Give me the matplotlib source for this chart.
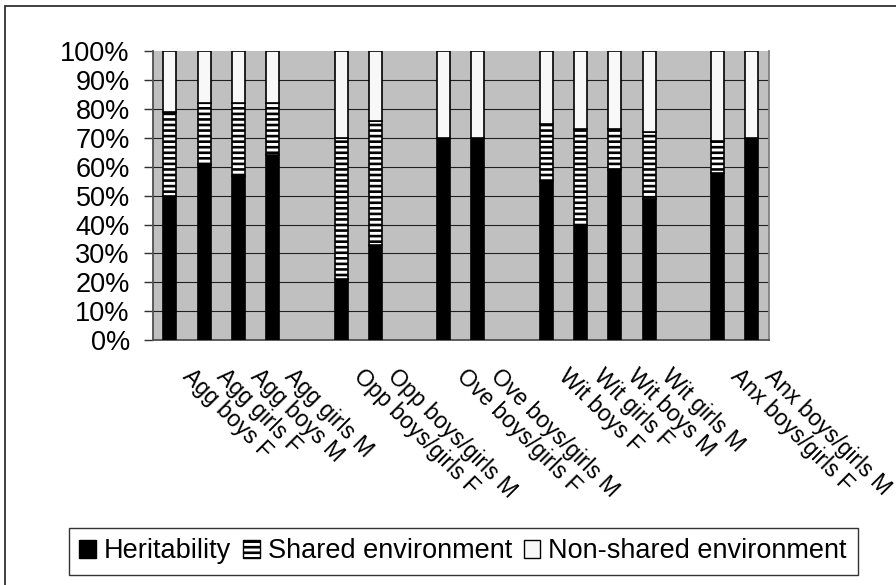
import numpy as np
import matplotlib
matplotlib.use("Agg")
import matplotlib.pyplot as plt
from matplotlib.patches import Rectangle, Patch
from matplotlib.ticker import FuncFormatter
from matplotlib.transforms import ScaledTranslation

# Variance components (%) per scale and rater; blank entries separate the groups
categories = ["Agg boys F", "Agg girls F", "Agg boys M", "Agg girls M", "",
              "Opp boys/girls F", "Opp boys/girls M", "",
              "Ove boys/girls F", "Ove boys/girls M", "",
              "Wit boys F", "Wit girls F", "Wit boys M", "Wit girls M", "",
              "Anx boys/girls F", "Anx boys/girls M"]
heritability = [50, 61, 57, 64, 0, 21, 33, 0, 70, 70, 0, 55, 40, 59, 49, 0, 58, 70]
shared_env = [29, 21, 25, 18, 0, 49, 43, 0, 0, 0, 0, 20, 33, 14, 23, 0, 11, 0]
nonshared_env = [21, 18, 18, 18, 0, 30, 24, 0, 30, 30, 0, 25, 27, 27, 28, 0, 31, 30]
series_names = ["Heritability", "Shared environment", "Non-shared environment"]
y_ticks = [0, 10, 20, 30, 40, 50, 60, 70, 80, 90, 100]

plt.rcParams["font.family"] = ["Liberation Sans", "DejaVu Sans"]
plt.rcParams["hatch.linewidth"] = 1.9

fig = plt.figure(figsize=(8.96, 5.85), dpi=100)
ax = fig.add_axes([0.1704, 0.4188, 0.6879, 0.4932])
ax.set_facecolor("#c0c0c0")

# chart-area frame
fig.patches.append(Rectangle((5 / 896, -0.2), 1.2, 1.2 - 6 / 585,
                             transform=fig.transFigure, fill=False,
                             edgecolor="#303030", linewidth=1.3, zorder=0))

x = np.arange(len(categories))
keep = np.array([c != "" for c in categories])
h = np.array(heritability, dtype=float)
s = np.array(shared_env, dtype=float)
n = np.array(nonshared_env, dtype=float)
total = h + s + n
total[total == 0] = 1
hp, sp, np_ = h / total * 100, s / total * 100, n / total * 100

width = 0.38
ax.bar(x[keep], hp[keep], width, color="black", edgecolor="black",
       linewidth=1.2, zorder=3)
ax.bar(x[keep], sp[keep], width, bottom=hp[keep], color="white",
       edgecolor="black", hatch="---", linewidth=1.2, zorder=3)
ax.bar(x[keep], np_[keep], width, bottom=(hp + sp)[keep], color="#f8f8f8",
       edgecolor="black", linewidth=1.2, zorder=3)

ax.set_xlim(-0.5, len(categories) - 0.5)
ax.set_ylim(0, 100)
ax.set_yticks(y_ticks)
ax.yaxis.set_major_formatter(FuncFormatter(lambda v, p: f"{v:.0f}%"))
ax.tick_params(axis="y", labelsize=19.5, length=6.5, width=1, pad=10,
               color="#303030")
ax.grid(axis="y", color="#202020", linewidth=0.8, zorder=1)
ax.set_axisbelow(True)
ax.yaxis.get_gridlines()[-1].set_visible(False)

ax.set_xticks(x)
ax.set_xticklabels(categories, rotation=-45, ha="left", va="center",
                   rotation_mode="anchor", fontsize=16.5)
ax.tick_params(axis="x", length=0, pad=21)
shift = ScaledTranslation(16 / 100, -4 / 100, fig.dpi_scale_trans)
for lab in ax.get_xticklabels():
    lab.set_transform(lab.get_transform() + shift)

for side in ["left", "bottom"]:
    ax.spines[side].set_color("#505050")
    ax.spines[side].set_linewidth(1.3)
ax.spines["right"].set_color("#808080")
ax.spines["right"].set_linewidth(1.3)
ax.spines["top"].set_visible(False)

handles = [Patch(facecolor="black", edgecolor="black"),
           Patch(facecolor="white", edgecolor="black", hatch="---"),
           Patch(facecolor="#f8f8f8", edgecolor="black")]
leg = fig.legend(handles, series_names, loc="center",
                 bbox_to_anchor=(0.517, 0.0573), ncol=3, fontsize=19.5,
                 frameon=True, fancybox=False, handlelength=0.6,
                 handleheight=0.6, handletextpad=0.3, columnspacing=0.45,
                 borderpad=0.4, borderaxespad=0)
leg.get_frame().set_edgecolor("black")
leg.get_frame().set_linewidth(1.0)

fig.savefig("out.png", dpi=100)
